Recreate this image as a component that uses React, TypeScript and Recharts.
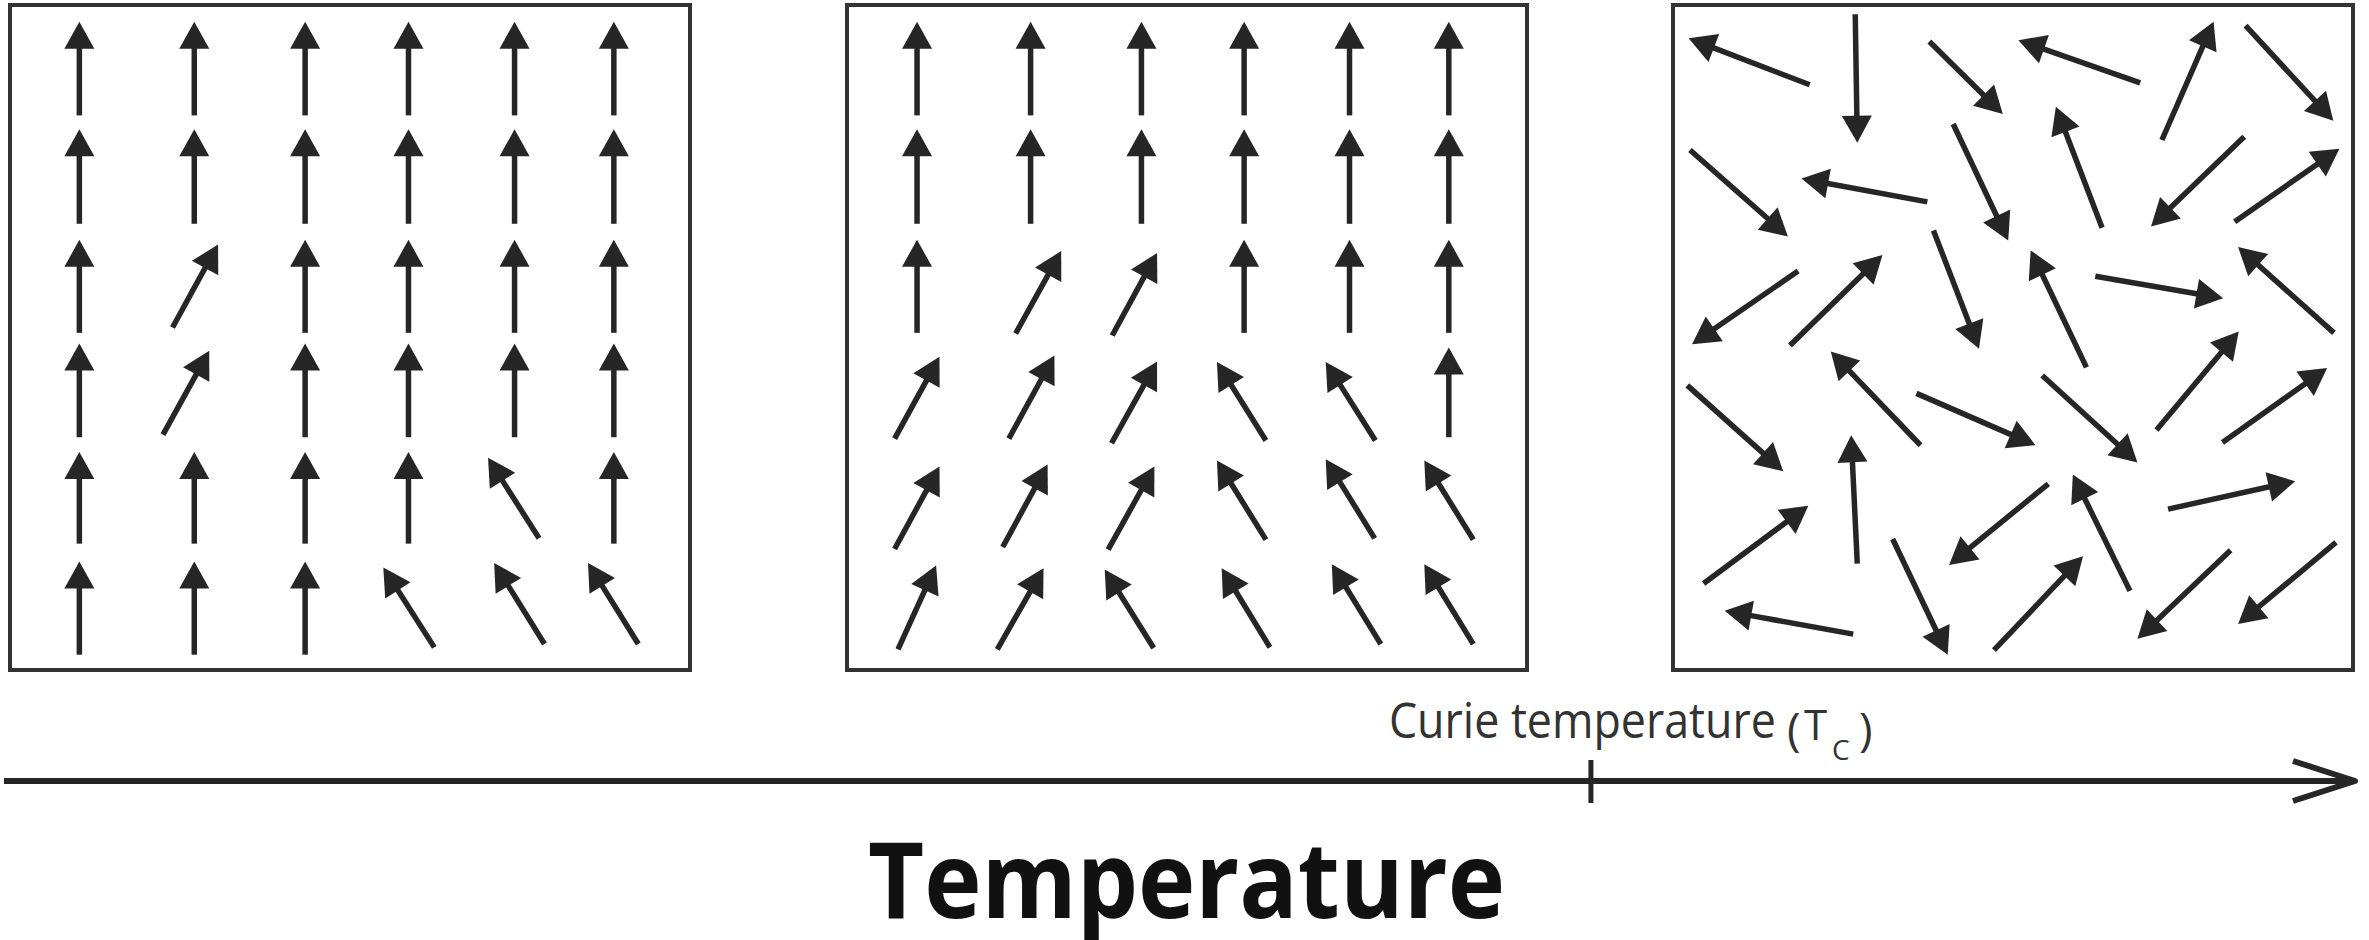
import { ComposedChart, XAxis, YAxis, ReferenceArea, ReferenceLine } from 'recharts'

// each arrow: [tail x, tail y, head x, head y] in a 0..100 box
type Arrow = [number, number, number, number]

// below Tc, mostly aligned spins
const lowTempArrows: Arrow[] = [
  [10.2, 83.4, 10.2, 97.5], [27.1, 83.4, 27.1, 97.5], [43.4, 83.4, 43.4, 97.5], [58.6, 83.4, 58.6, 97.5], [74.2, 83.4, 74.2, 97.5], [88.8, 83.4, 88.8, 97.5],
  [10.2, 67.1, 10.2, 81.3], [27.1, 67.1, 27.1, 81.3], [43.4, 67.1, 43.4, 81.3], [58.6, 67.1, 58.6, 81.3], [74.2, 67.1, 74.2, 81.3], [88.8, 67.1, 88.8, 81.3],
  [10.2, 50.7, 10.2, 64.7], [23.9, 51.5, 30.6, 64.0], [43.4, 50.7, 43.4, 64.7], [58.6, 50.7, 58.6, 64.7], [74.2, 50.7, 74.2, 64.7], [88.8, 50.7, 88.8, 64.7],
  [10.2, 35.0, 10.2, 49.1], [22.5, 35.4, 29.3, 48.0], [43.4, 35.0, 43.4, 49.1], [58.6, 35.0, 58.6, 49.1], [74.2, 35.0, 74.2, 49.1], [88.8, 35.0, 88.8, 49.1],
  [10.2, 19.0, 10.2, 32.8], [27.1, 19.0, 27.1, 32.8], [43.4, 19.0, 43.4, 32.8], [58.6, 19.0, 58.6, 32.8], [77.8, 19.8, 70.3, 31.9], [88.8, 19.0, 88.8, 32.8],
  [10.2, 2.3, 10.2, 16.3], [27.1, 2.3, 27.1, 16.3], [43.4, 2.3, 43.4, 16.3], [62.4, 3.4, 54.9, 15.4], [78.6, 3.9, 71.2, 16.1], [92.4, 3.9, 85.0, 16.1],
]

// closer to Tc, more spins tilted
const nearCurieArrows: Arrow[] = [
  [10.3, 83.4, 10.3, 97.5], [27.0, 83.4, 27.0, 97.5], [43.3, 83.4, 43.3, 97.5], [58.4, 83.4, 58.4, 97.5], [73.9, 83.4, 73.9, 97.5], [88.5, 83.4, 88.5, 97.5],
  [10.3, 67.1, 10.3, 81.3], [27.0, 67.1, 27.0, 81.3], [43.3, 67.1, 43.3, 81.3], [58.4, 67.1, 58.4, 81.3], [73.9, 67.1, 73.9, 81.3], [88.5, 67.1, 88.5, 81.3],
  [10.3, 50.7, 10.3, 64.7], [24.8, 50.6, 31.5, 63.0], [39.0, 50.3, 45.6, 62.7], [58.4, 50.7, 58.4, 64.7], [73.9, 50.7, 73.9, 64.7], [88.5, 50.7, 88.5, 64.7],
  [7.0, 34.8, 13.6, 47.1], [23.8, 34.8, 30.5, 47.3], [38.9, 34.1, 45.6, 46.4], [61.6, 34.5, 54.4, 46.3], [77.7, 34.5, 70.4, 46.3], [88.5, 35.0, 88.5, 48.5],
  [7.0, 18.2, 13.6, 30.6], [22.9, 18.5, 29.5, 30.9], [38.4, 18.1, 45.2, 30.6], [61.6, 19.6, 54.4, 31.5], [77.6, 19.8, 70.4, 31.7], [92.1, 19.6, 84.9, 31.5],
  [7.5, 3.1, 13.1, 15.7], [22.1, 3.1, 28.9, 15.3], [45.1, 3.3, 37.9, 15.1], [62.2, 3.4, 55.1, 15.3], [78.5, 3.9, 71.3, 15.9], [92.1, 3.9, 84.9, 15.9],
]

// above Tc, random orientation
const aboveCurieArrows: Arrow[] = [
  [20.1, 88.0, 2.3, 95.0], [26.8, 98.6, 27.1, 79.3], [37.7, 94.5, 48.5, 83.6], [68.7, 88.3, 50.8, 94.7],
  [71.9, 79.7, 79.5, 97.5], [84.2, 96.9, 97.1, 82.6], [2.5, 78.2, 16.9, 65.2], [37.4, 70.4, 18.9, 73.9],
  [41.2, 82.1, 49.3, 64.6], [63.1, 66.5, 56.3, 84.7], [84.0, 80.2, 70.3, 66.7], [82.6, 67.4, 98.0, 78.4],
  [18.4, 60.0, 2.8, 49.0], [17.2, 48.8, 30.8, 62.4], [38.3, 66.1, 45.0, 48.3], [60.8, 45.5, 52.6, 63.1],
  [62.1, 59.2, 80.9, 55.9], [97.2, 50.7, 83.1, 63.6], [2.1, 42.8, 16.2, 29.9], [36.4, 33.8, 23.2, 47.9],
  [35.8, 41.6, 53.3, 33.8], [54.3, 44.3, 68.3, 31.2], [71.1, 36.1, 83.2, 50.9], [80.8, 34.2, 96.2, 45.4],
  [4.5, 13.0, 19.9, 24.7], [27.1, 16.0, 26.2, 35.3], [55.2, 28.0, 40.6, 15.8], [67.2, 11.9, 58.8, 29.4],
  [72.8, 24.2, 91.5, 28.4], [26.5, 5.4, 7.6, 8.9], [32.3, 19.7, 40.4, 2.3], [47.2, 3.0, 60.3, 17.1],
  [82.0, 18.0, 68.3, 4.7], [97.5, 19.2, 83.1, 6.9],
]

const boxDomain = [0, 100]
const tempDomain = [0, 100]
const tempData = [{ t: 0 }, { t: 100 }]
const curieTicks = [67.5]
const curieLabel = 'Curie temperature'
const curieSymbol = 'T'
const curieSub = 'C'
const axisTitle = 'Temperature'

const INK = '#262626'
const FONT = '"Open Sans", "DejaVu Sans", sans-serif'

function ArrowShape(p: any) {
  const { x1, y1, x2, y2 } = p
  const dx = x2 - x1
  const dy = y2 - y1
  const len = Math.hypot(dx, dy) || 1
  const ux = dx / len
  const uy = dy / len
  const headLen = 27
  const headW = 30
  const bx = x2 - ux * headLen
  const by = y2 - uy * headLen
  const nx = (-uy * headW) / 2
  const ny = (ux * headW) / 2
  return (
    <g>
      <line x1={x1} y1={y1} x2={bx + ux * 3} y2={by + uy * 3} stroke={INK} strokeWidth={5.5} />
      <polygon points={`${x2},${y2} ${bx + nx},${by + ny} ${bx - nx},${by - ny}`} fill={INK} />
    </g>
  )
}

function AxisArrow(p: any) {
  const { x1, y1, x2, y2 } = p
  return (
    <g>
      <line x1={x1} y1={y1} x2={x2} y2={y2} stroke={INK} strokeWidth={6} />
      <polyline
        points={`${x2 - 62},${y2 - 20} ${x2},${y2} ${x2 - 62},${y2 + 20}`}
        fill="none"
        stroke={INK}
        strokeWidth={6}
        strokeLinejoin="round"
      />
    </g>
  )
}

function CurieTick(p: any) {
  const { x, y } = p
  return (
    <g>
      <line x1={x} y1={y - 21} x2={x} y2={y + 22} stroke={INK} strokeWidth={5} />
      <text x={x - 202} y={y - 43} fontFamily={FONT} fontSize={50} fill="#333" textLength={387} lengthAdjust="spacingAndGlyphs">
        {curieLabel}
      </text>
      <text fontFamily={FONT} fill="#333">
        <tspan x={x + 196} y={y - 35} fontSize={46}>(</tspan>
        <tspan x={x + 213} y={y - 41} fontSize={42}>{curieSymbol}</tspan>
        <tspan x={x + 241} y={y - 21} fontSize={28}>{curieSub}</tspan>
        <tspan x={x + 268} y={y - 35} fontSize={46}>)</tspan>
      </text>
    </g>
  )
}

function AxisTitle(p: any) {
  const vb = p.viewBox || { x: 0, y: 0, width: 2369 }
  return (
    <text
      x={vb.x + vb.width / 2 + 7}
      y={vb.y + 137}
      textAnchor="middle"
      fontFamily={FONT}
      fontWeight={700}
      fontSize={106}
      fill="#111"
      textLength={637}
      lengthAdjust="spacingAndGlyphs"
    >
      {axisTitle}
    </text>
  )
}

function SpinPanel({ arrows, left }: { arrows: Arrow[]; left: number }) {
  return (
    <div style={{ position: 'absolute', left, top: 1 }}>
      <ComposedChart width={688} height={673} margin={{ top: 4, right: 4, bottom: 4, left: 4 }}>
        <XAxis type="number" dataKey="x" domain={boxDomain} hide allowDataOverflow />
        <YAxis type="number" dataKey="y" domain={boxDomain} hide allowDataOverflow />
        <ReferenceArea x1={0} x2={100} y1={0} y2={100} fill="none" fillOpacity={0} stroke="#333" strokeWidth={4} ifOverflow="visible" />
        {arrows.map((a, i) => (
          <ReferenceLine
            key={i}
            segment={[{ x: a[0], y: a[1] }, { x: a[2], y: a[3] }]}
            shape={ArrowShape}
            ifOverflow="visible"
          />
        ))}
      </ComposedChart>
    </div>
  )
}

export default function App() {
  return (
    <div style={{ position: 'absolute', left: 0, top: 0, width: 2369, height: 940, background: '#fff', overflow: 'hidden' }}>
      <SpinPanel arrows={lowTempArrows} left={6} />
      <SpinPanel arrows={nearCurieArrows} left={843} />
      <SpinPanel arrows={aboveCurieArrows} left={1669} />
      <div style={{ position: 'absolute', left: 0, top: 690 }}>
        <ComposedChart width={2369} height={250} data={tempData} margin={{ top: 0, right: 14, bottom: 0, left: 4 }}>
          <XAxis
            type="number"
            dataKey="t"
            domain={tempDomain}
            ticks={curieTicks}
            interval={0}
            height={159}
            axisLine={false}
            tickLine={false}
            tickSize={0}
            tickMargin={0}
            tick={(p: any) => <CurieTick {...p} />}
            label={{ content: (p: any) => <AxisTitle {...p} /> }}
            allowDataOverflow
          />
          <YAxis type="number" domain={[0, 1]} hide allowDataOverflow />
          <ReferenceLine segment={[{ x: 0, y: 0 }, { x: 100, y: 0 }]} shape={AxisArrow} ifOverflow="visible" />
        </ComposedChart>
      </div>
    </div>
  )
}
